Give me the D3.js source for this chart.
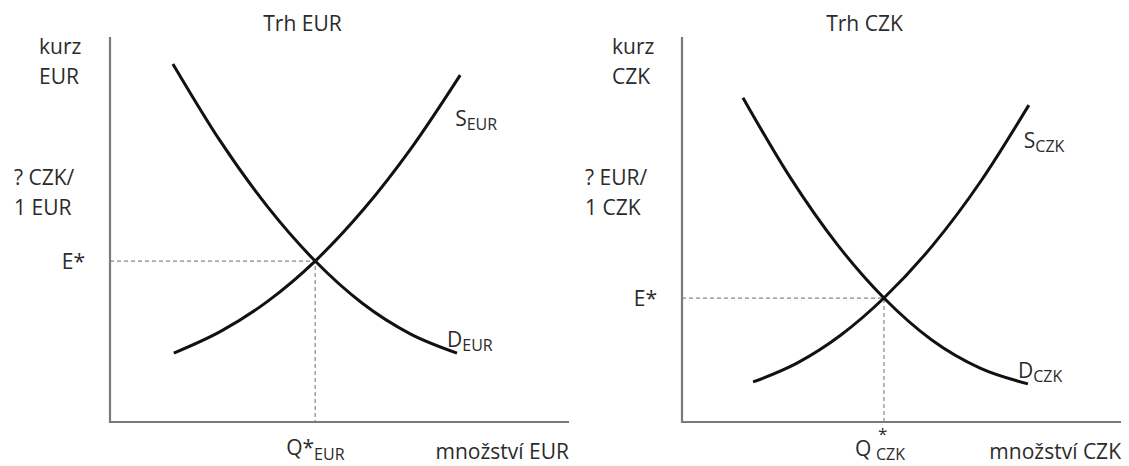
<!DOCTYPE html>
<html>
<head>
<meta charset="utf-8">
<script src="https://cdn.jsdelivr.net/npm/d3@7"></script>
<style>
  body { margin: 0; background: #fff; }
  text { font-family: "Open Sans", sans-serif; fill: #2b2b2b; }
</style>
</head>
<body>
<article></article>
<script>
// curve points in chart units (0-100 on both axes)
const eurDemand = [[13.7, 93.0], [24.0, 73.0], [34.4, 55.8], [44.7, 41.8], [54.9, 30.9], [65.4, 22.9], [75.6, 17.9]]
const eurSupply = [[13.9, 17.9], [24.2, 23.6], [34.4, 31.4], [44.7, 41.8], [55.3, 55.3], [65.8, 71.4], [76.3, 90.1]]
const eurEq = [44.7, 41.8]

const czkDemand = [[13.9, 84.2], [24.6, 63.6], [35.3, 46.2], [46.0, 32.2], [56.9, 21.3], [67.9, 14.0], [78.8, 9.9]]
const czkSupply = [[16.2, 10.4], [26.2, 15.3], [36.2, 22.6], [46.0, 32.2], [57.2, 46.0], [68.1, 62.6], [79.0, 82.3]]
const czkEq = [46.0, 32.2]

const m = { width: 1129, height: 466 }
const fs = 21, fsSub = 16

const svg = d3.select("article").append('svg')
    .attr('width', m.width)
    .attr('height', m.height)

function drawPanel(p) {
    const x = d3.scaleLinear().domain([0, 100]).range([p.x0, p.x1])
    const y = d3.scaleLinear().domain([0, 100]).range([422, 37])
    const g = svg.append('g')

    const line = d3.line()
        .x(d => x(d[0]))
        .y(d => y(d[1]))
        .curve(d3.curveMonotoneX)

    // dashed guides to the equilibrium
    g.append('path')
        .attr('d', `M${x(0)},${y(p.eq[1])}H${x(p.eq[0])}V${y(0)}`)
        .attr('fill', 'none')
        .attr('stroke', '#888')
        .attr('stroke-width', 1.2)
        .attr('stroke-dasharray', '4,3')

    // axes (no ticks)
    g.append('path')
        .attr('d', `M${x(0)},${y(100)}V${y(0)}H${x(100)}`)
        .attr('fill', 'none')
        .attr('stroke', '#7a7a7a')
        .attr('stroke-width', 2.2)

    g.selectAll('.curve')
        .data([p.demand, p.supply])
        .enter()
        .append('path')
        .attr('class', 'curve')
        .attr('d', line)
        .attr('fill', 'none')
        .attr('stroke', '#111')
        .attr('stroke-width', 3)

    g.append('text')
        .attr('x', (p.x0 + p.x1) / 2 - 37)
        .attr('y', 31)
        .attr('text-anchor', 'middle')
        .attr('font-size', fs)
        .text(p.title)

    g.append('text').attr('x', p.kx).attr('y', 54).attr('font-size', fs).text('kurz')
    g.append('text').attr('x', p.kx).attr('y', 84).attr('font-size', fs).text(p.cur)
    g.append('text').attr('x', p.ux).attr('y', 185).attr('font-size', fs).text(p.unit1)
    g.append('text').attr('x', p.ux).attr('y', 215).attr('font-size', fs).text(p.unit2)

    g.append('text')
        .attr('x', x(0) - 25)
        .attr('y', y(p.eq[1]) + 8)
        .attr('text-anchor', 'end')
        .attr('font-size', fs)
        .text('E*')

    g.append('text')
        .attr('x', x(100))
        .attr('y', 459)
        .attr('text-anchor', 'end')
        .attr('font-size', fs)
        .text('množství ' + p.cur)

    // curve labels
    const s = g.append('text')
        .attr('x', x(p.supply[6][0]) - 5)
        .attr('y', y(p.supply[6][1]) + p.sdy)
        .attr('font-size', fs)
    s.append('tspan').text('S')
    s.append('tspan').attr('dy', 4).attr('font-size', fsSub).text(p.cur)

    const d = g.append('text')
        .attr('x', x(p.demand[6][0]) - 10)
        .attr('y', y(p.demand[6][1]) - 6)
        .attr('font-size', fs)
    d.append('tspan').text('D')
    d.append('tspan').attr('dy', 4).attr('font-size', fsSub).text(p.cur)

    // Q* label
    const qx = x(p.eq[0])
    if (p.stacked) {
        g.append('text').attr('x', qx - 29).attr('y', 456).attr('font-size', fs).text('Q')
        g.append('text').attr('x', qx - 6).attr('y', 440).attr('font-size', 17).text('*')
        g.append('text').attr('x', qx - 8).attr('y', 460).attr('font-size', fsSub).text(p.cur)
    } else {
        const q = g.append('text')
            .attr('x', qx - 29)
            .attr('y', 455)
            .attr('font-size', fs)
        q.append('tspan').text('Q*')
        q.append('tspan').attr('dy', 5).attr('font-size', fsSub).text(p.cur)
    }
}

drawPanel({
    x0: 110, x1: 569, title: 'Trh EUR', cur: 'EUR',
    kx: 39, ux: 14, unit1: '? CZK/', unit2: '1 EUR',
    demand: eurDemand, supply: eurSupply, eq: eurEq,
    sdy: 51, stacked: false
})

drawPanel({
    x0: 682, x1: 1121, title: 'Trh CZK', cur: 'CZK',
    kx: 612, ux: 585, unit1: '? EUR/', unit2: '1 CZK',
    demand: czkDemand, supply: czkSupply, eq: czkEq,
    sdy: 43, stacked: true
})
</script>
</body>
</html>
